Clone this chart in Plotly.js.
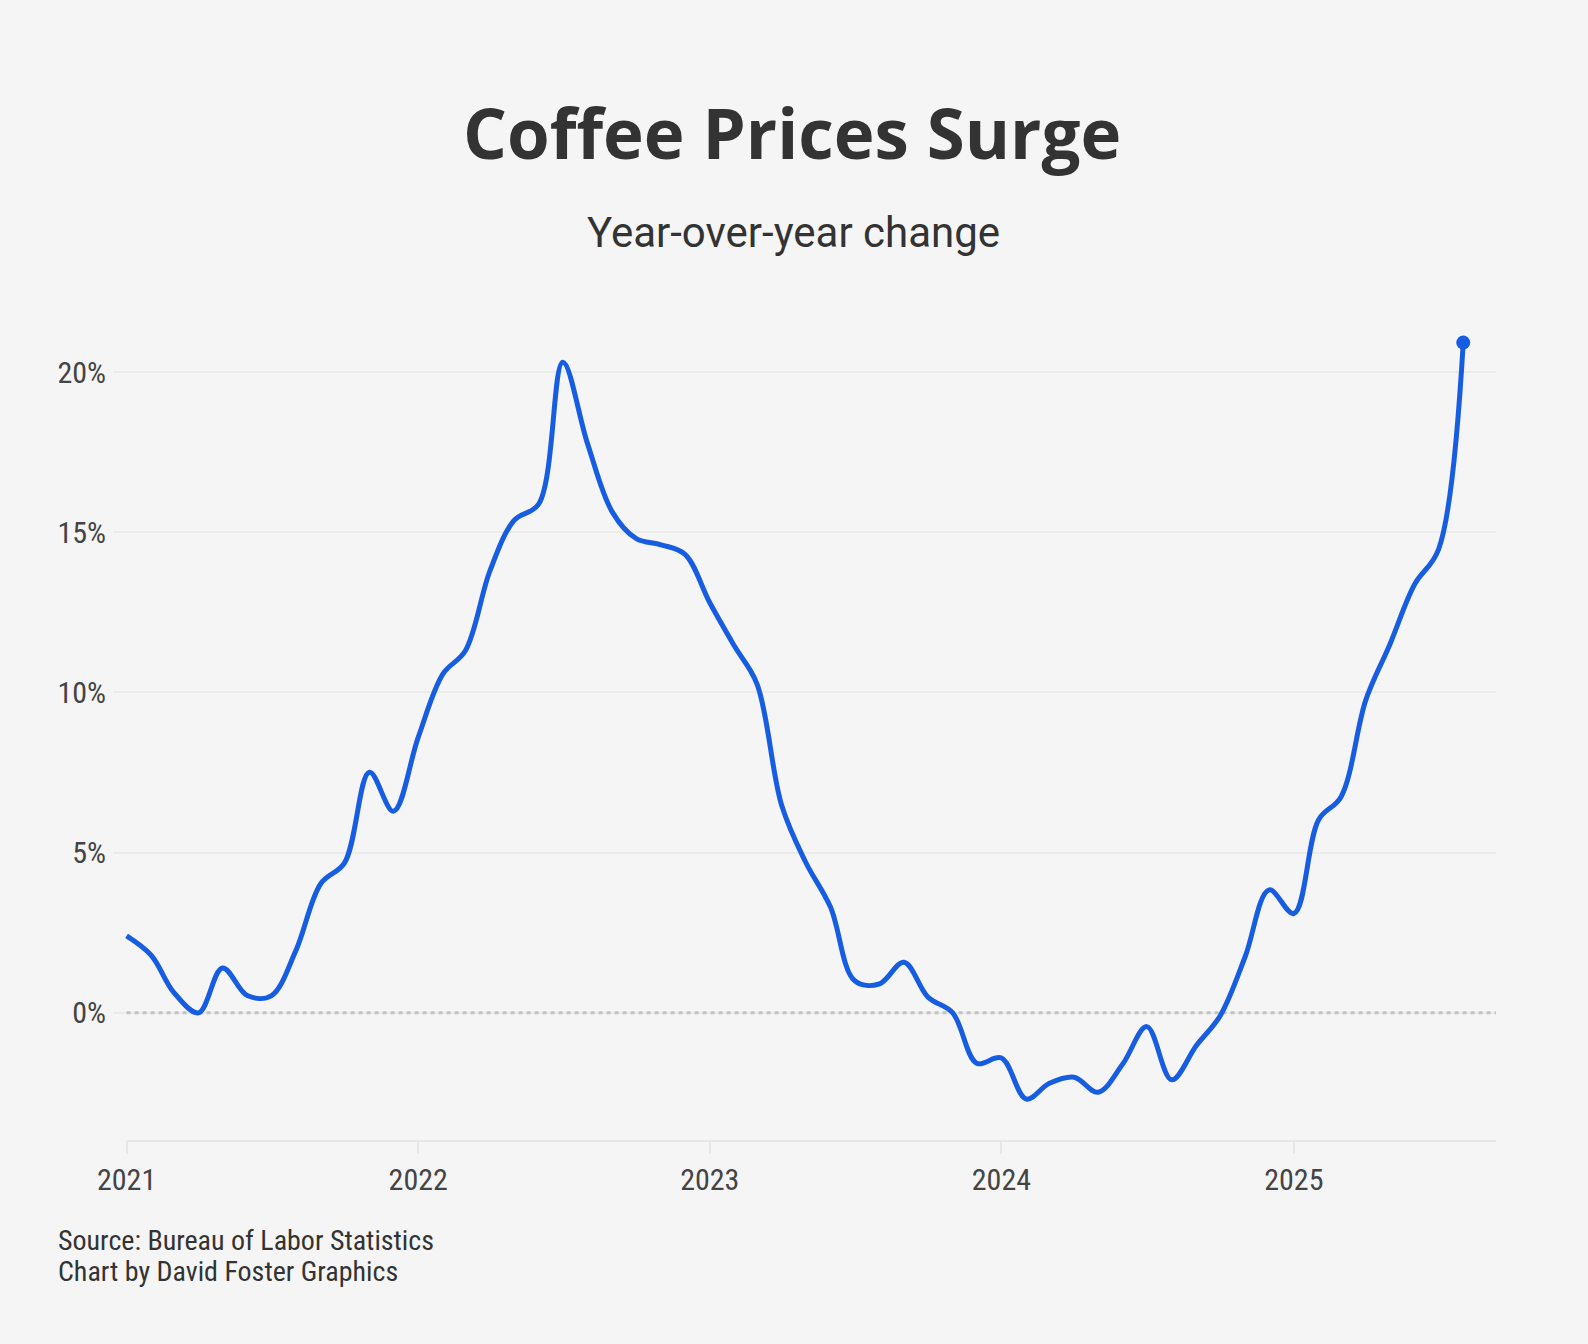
<!DOCTYPE html>
<html>
<head>
<meta charset="utf-8">
<script src="https://cdn.plot.ly/plotly-3.0.1.min.js"></script>
<style>
  html, body { margin: 0; padding: 0; background: #f5f5f5; }
  #chart { width: 1588px; height: 1344px; }
</style>
</head>
<body>
<div id="chart"></div>
<script>
// ---- Data (monthly, year-over-year % change in coffee prices) ----
const months = [
  '2021-01-01','2021-02-01','2021-03-01','2021-04-01','2021-05-01','2021-06-01',
  '2021-07-01','2021-08-01','2021-09-01','2021-10-01','2021-11-01','2021-12-01',
  '2022-01-01','2022-02-01','2022-03-01','2022-04-01','2022-05-01','2022-06-01',
  '2022-07-01','2022-08-01','2022-09-01','2022-10-01','2022-11-01','2022-12-01',
  '2023-01-01','2023-02-01','2023-03-01','2023-04-01','2023-05-01','2023-06-01',
  '2023-07-01','2023-08-01','2023-09-01','2023-10-01','2023-11-01','2023-12-01',
  '2024-01-01','2024-02-01','2024-03-01','2024-04-01','2024-05-01','2024-06-01',
  '2024-07-01','2024-08-01','2024-09-01','2024-10-01','2024-11-01','2024-12-01',
  '2025-01-01','2025-02-01','2025-03-01','2025-04-01','2025-05-01','2025-06-01',
  '2025-07-01','2025-08-01'
];
const yoyChange = [
  2.40, 1.79, 0.64, 0.00, 1.40, 0.54, 0.53, 1.95, 4.03, 4.69, 7.51, 6.29,
  8.60, 10.58, 11.30, 13.81, 15.37, 15.89, 20.31, 17.76, 15.63, 14.80, 14.61, 14.31,
  12.80, 11.44, 10.27, 6.47, 4.70, 3.30, 1.01, 0.90, 1.58, 0.49, 0.00, -1.57,
  -1.41, -2.69, -2.20, -2.01, -2.48, -1.59, -0.43, -2.09, -1.02, -0.08, 1.75, 3.84,
  3.10, 6.03, 6.74, 9.76, 11.49, 13.37, 14.46, 20.92
];
const yearTicks = ['2021-01-01','2022-01-01','2023-01-01','2024-01-01','2025-01-01'];
const yearLabels = ['2021','2022','2023','2024','2025'];
const pctTicks = [0, 5, 10, 15, 20];
const pctLabels = ['0%','5%','10%','15%','20%'];

const titleText = 'Coffee Prices Surge';
const subtitleText = 'Year-over-year change';
const sourceLine1 = 'Source: Bureau of Labor Statistics';
const sourceLine2 = 'Chart by David Foster Graphics';

// ---- Styling ----
const xStart = '2020-12-15';
const xEnd = '2025-09-11';
const blue = '#175de2';
const narrow = "'Liberation Sans Narrow', 'Roboto Condensed', Roboto, sans-serif";

const lastX = months[months.length - 1];
const lastY = yoyChange[yoyChange.length - 1];

const traces = [
  {
    type: 'scatter', mode: 'lines',
    x: months, y: yoyChange,
    line: { color: blue, width: 5, shape: 'spline', smoothing: 1 },
    hoverinfo: 'x+y'
  },
  {
    type: 'scatter', mode: 'markers',
    x: [lastX], y: [lastY],
    marker: { color: blue, size: 14 },
    hoverinfo: 'x+y'
  }
];

const layout = {
  width: 1588, height: 1344,
  paper_bgcolor: '#f5f5f5', plot_bgcolor: '#f5f5f5',
  showlegend: false,
  margin: { l: 113, r: 92, t: 308, b: 203 },
  xaxis: {
    type: 'date', range: [xStart, xEnd],
    tickvals: yearTicks, ticktext: yearLabels,
    showgrid: false, zeroline: false, showline: false,
    ticks: 'outside', ticklen: 12, tickwidth: 2, tickcolor: '#e6e6e6',
    tickfont: { family: narrow, size: 30, color: '#444' },
    fixedrange: true
  },
  yaxis: {
    range: [-4, 22],
    tickvals: pctTicks, ticktext: pctLabels,
    showgrid: true, gridcolor: '#ebebeb', gridwidth: 2,
    zeroline: false, showline: false, ticks: '',
    ticklabelstandoff: 6,
    tickfont: { family: narrow, size: 30, color: '#444' },
    fixedrange: true
  },
  shapes: [
    { type: 'line', layer: 'between', xref: 'x', yref: 'y',
      x0: yearTicks[0], x1: xEnd, y0: 0, y1: 0,
      line: { color: '#c2c2c2', width: 3, dash: '4px,4px' } },
    { type: 'line', layer: 'between', xref: 'x', yref: 'paper',
      x0: yearTicks[0], x1: xEnd, y0: 0, y1: 0,
      line: { color: '#e6e6e6', width: 2 } }
  ],
  annotations: [
    { text: '<b>' + titleText + '</b>', xref: 'paper', yref: 'paper',
      x: (792 - 113) / 1383, y: (1141 - 132) / 833, xanchor: 'center', yanchor: 'middle',
      showarrow: false, font: { family: "'Open Sans', 'Noto Sans', sans-serif", size: 69, color: '#333' } },
    { text: subtitleText, xref: 'paper', yref: 'paper',
      x: (793 - 113) / 1383, y: (1141 - 233) / 833, xanchor: 'center', yanchor: 'middle',
      showarrow: false, font: { family: 'Roboto, sans-serif', size: 42, color: '#333', weight: 400 } },
    { text: sourceLine1, xref: 'paper', yref: 'paper',
      x: (56 - 113) / 1383, y: (1141 - 1240) / 833, xanchor: 'left', yanchor: 'middle',
      showarrow: false, font: { family: narrow, size: 28, color: '#333' } },
    { text: sourceLine2, xref: 'paper', yref: 'paper',
      x: (56 - 113) / 1383, y: (1141 - 1271.7) / 833, xanchor: 'left', yanchor: 'middle',
      showarrow: false, font: { family: narrow, size: 28, color: '#333' } }
  ]
};

Plotly.newPlot('chart', traces, layout, { displayModeBar: false, staticPlot: true });
</script>
</body>
</html>
